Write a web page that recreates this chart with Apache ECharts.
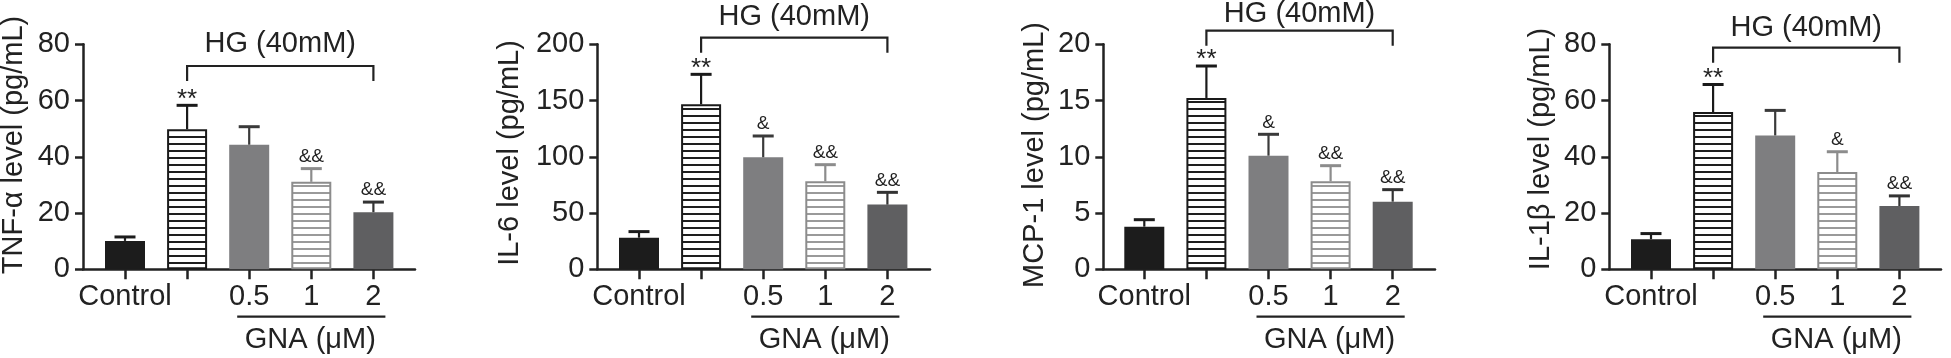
<!DOCTYPE html>
<html><head><meta charset="utf-8">
<script src="https://cdn.jsdelivr.net/npm/echarts@6/dist/echarts.min.js"></script>
<style>html,body{margin:0;padding:0;background:#fff}#c{width:1951px;height:358px}</style>
</head><body><div id="c"></div>
<script>
// ---- data ----
const categories = ['Control', 'HG', '0.5', '1', '2'];
const tickLabels = ['Control', '', '0.5', '1', '2'];
const yTitles = ['TNF-α level (pg/mL)', 'IL-6 level (pg/mL)', 'MCP-1 level (pg/mL)', 'IL-1β level (pg/mL)'];
const yMax = [80, 200, 20, 80];
const yStep = [20, 50, 5, 20];
const tnfMean = [10.1, 49.8, 44.3, 31.1, 20.3];
const tnfSD = [1.4, 8.5, 6.4, 4.7, 3.6];
const il6Mean = [28.1, 146.7, 99.6, 78.2, 57.5];
const il6SD = [5.4, 26.6, 18.9, 14.8, 10.9];
const mcpMean = [3.79, 15.23, 10.1, 7.82, 6.01];
const mcpSD = [0.62, 2.84, 1.9, 1.39, 1.07];
const il1bMean = [10.7, 55.9, 47.6, 34.6, 22.5];
const il1bSD = [2.0, 9.8, 8.9, 7.2, 3.6];
const tnfSig = ['', '**', '', '&&', '&&'];
const il6Sig = ['', '**', '&', '&&', '&&'];
const mcpSig = ['', '**', '&', '&&', '&&'];
const il1bSig = ['', '**', '', '&', '&&'];
const bracketLabel = 'HG (40mM)';
const groupLabel = 'GNA (μM)';

const means = [tnfMean, il6Mean, mcpMean, il1bMean];
const sds = [tnfSD, il6SD, mcpSD, il1bSD];
const sigs = [tnfSig, il6Sig, mcpSig, il1bSig];

// ---- layout / style ----
const FONT = '"Liberation Sans", Arial, Helvetica, sans-serif';
const INK = '#222';
const TOP = 44.3, H = 225, BAND = 62.1;
const layout = [
  {axisX: 83, axisEnd: 415, c0: 125, brY: 66, brTextY: 44, titleX: 14, titleY: 145},
  {axisX: 597.3, axisEnd: 930, c0: 639, brY: 37.7, brTextY: 16.7, titleX: 510, titleY: 153},
  {axisX: 1103.3, axisEnd: 1435, c0: 1144.3, brY: 30.7, brTextY: 14, titleX: 1035, titleY: 155},
  {axisX: 1609.3, axisEnd: 1941, c0: 1651, brY: 47.7, brTextY: 28.3, titleX: 1541, titleY: 149}
];

function stripes(color) {
  const c = document.createElement('canvas');
  c.width = 8; c.height = 7;
  const g = c.getContext('2d');
  g.fillStyle = '#fff'; g.fillRect(0, 0, 8, 7);
  g.fillStyle = color; g.fillRect(0, 3, 8, 2);
  return {image: c, repeat: 'repeat'};
}
const barStyles = [
  {color: '#1c1c1c'},
  {color: stripes('#1e1e1e'), borderColor: '#1a1a1a', borderWidth: 2},
  {color: '#7e7e80'},
  {color: stripes('#9a9a9a'), borderColor: '#8c8c8c', borderWidth: 2},
  {color: '#5f5f61'}
];
const errColors = ['#1c1c1c', '#1a1a1a', '#3a3a3a', '#8c8c8c', '#333'];

const grid = [], xAxis = [], yAxis = [], series = [];
layout.forEach((L, p) => {
  grid.push({left: L.axisX, top: TOP, width: L.axisEnd - L.axisX, height: H});
  grid.push({left: L.c0 - BAND / 2, top: TOP, width: BAND * 5, height: H});
  xAxis.push({gridIndex: 2 * p, type: 'value', min: 0, max: 1,
    axisLine: {show: true, onZero: false, lineStyle: {color: INK, width: 2.5}},
    axisTick: {show: false}, axisLabel: {show: false}, splitLine: {show: false}});
  xAxis.push({gridIndex: 2 * p + 1, type: 'category', data: categories,
    axisLine: {show: false},
    axisTick: {show: true, alignWithLabel: true, interval: 0, length: 10, lineStyle: {color: INK, width: 2.5}},
    axisLabel: {interval: 0, margin: 13, color: INK, fontSize: 29, fontFamily: FONT,
      formatter: (v, i) => tickLabels[i]},
    splitLine: {show: false}});
  yAxis.push({gridIndex: 2 * p, type: 'value', min: 0, max: yMax[p], interval: yStep[p],
    axisLine: {show: true, onZero: false, lineStyle: {color: INK, width: 2.5}},
    axisTick: {show: true, length: 8, lineStyle: {color: INK, width: 2.5}},
    axisLabel: {margin: 13, color: INK, fontSize: 29, fontFamily: FONT},
    splitLine: {show: false}});
  yAxis.push({gridIndex: 2 * p + 1, type: 'value', min: 0, max: yMax[p], show: false, splitLine: {show: false}});

  series.push({type: 'bar', xAxisIndex: 2 * p + 1, yAxisIndex: 2 * p + 1, barWidth: 40,
    data: means[p].map((v, i) => ({value: v, itemStyle: barStyles[i]})),
    silent: true, animation: false});

  series.push({type: 'custom', xAxisIndex: 2 * p + 1, yAxisIndex: 2 * p + 1, animation: false, silent: true,
    data: means[p].map((v, i) => [i, v, sds[p][i]]),
    encode: {x: 0, y: 1},
    z: 5,
    renderItem: (params, api) => {
      const i = api.value(0), m = api.value(1), sd = api.value(2);
      const b = api.coord([i, m]);
      const t = api.coord([i, m + sd]);
      const col = errColors[i];
      const sig = sigs[p][i];
      const children = [
        {type: 'line', shape: {x1: b[0], y1: b[1], x2: t[0], y2: t[1]}, style: {stroke: col, lineWidth: 2.2}},
        {type: 'line', shape: {x1: t[0] - 10.5, y1: t[1], x2: t[0] + 10.5, y2: t[1]}, style: {stroke: col, lineWidth: 3}}
      ];
      if (sig) {
        const star = sig.indexOf('*') >= 0;
        children.push({type: 'text', style: {text: sig, x: t[0], y: star ? t[1] - 6 : t[1] - 12,
          align: 'center', verticalAlign: 'middle', textAlign: 'center', textVerticalAlign: 'middle',
          font: (star ? '26px ' : '19px ') + FONT, fill: INK}});
      }
      return {type: 'group', children};
    }});
});

const chart = echarts.init(document.getElementById('c'), null, {renderer: 'canvas'});
chart.setOption({animation: false, backgroundColor: '#fff', grid, xAxis, yAxis, series});

// annotations placed from the library's own scale
const graphic = [];
layout.forEach((L, p) => {
  const px = i => chart.convertToPixel({gridIndex: 2 * p + 1}, [i, 0])[0];
  const xa = px(1), xb = px(4);
  graphic.push({type: 'polyline', shape: {points: [[xa, L.brY + 15], [xa, L.brY], [xb, L.brY], [xb, L.brY + 15]]},
    style: {stroke: INK, lineWidth: 2.2, fill: null}, silent: true});
  graphic.push({type: 'text', x: (xa + xb) / 2, y: L.brTextY,
    style: {text: bracketLabel, font: '29px ' + FONT, fill: INK, align: 'center', verticalAlign: 'middle',
      textAlign: 'center', textVerticalAlign: 'middle'}, silent: true});
  const ua = px(2) - 12, ub = px(4) + 12;
  graphic.push({type: 'line', shape: {x1: ua, y1: 316.7, x2: ub, y2: 316.7}, style: {stroke: INK, lineWidth: 2.2}, silent: true});
  graphic.push({type: 'text', x: px(3) - 1, y: 340,
    style: {text: groupLabel, font: '29px ' + FONT, fill: INK, align: 'center', verticalAlign: 'middle',
      textAlign: 'center', textVerticalAlign: 'middle'}, silent: true});
  graphic.push({type: 'text', x: L.titleX, y: L.titleY, rotation: Math.PI / 2,
    style: {text: yTitles[p], font: '29px ' + FONT, fill: INK, align: 'center', verticalAlign: 'middle',
      textAlign: 'center', textVerticalAlign: 'middle'}, silent: true});
});
chart.setOption({graphic});
</script>
</body></html>
